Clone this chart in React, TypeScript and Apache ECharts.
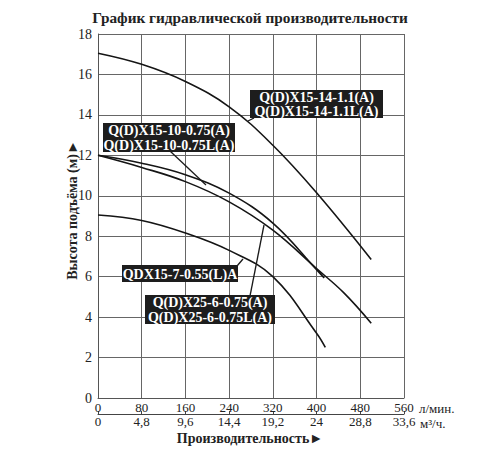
import React, { useEffect, useRef } from "react";
import * as echarts from "echarts";

// Flow (l/min) and head (m) readings for each pump curve
const flow1 = [0, 80, 160, 240, 320, 400, 500];
const head1 = [17.05, 16.5, 15.65, 14.4, 12.5, 10.15, 6.85];

const flow2 = [0, 80, 160, 240, 320, 400, 414];
const head2 = [12, 11.61, 11.04, 10.13, 8.65, 6.35, 5.93];

const flow3 = [0, 80, 160, 240, 320, 400, 450, 500];
const head3 = [12, 11.4, 10.7, 9.7, 8.3, 6.4, 5.2, 3.7];

const flow4 = [0, 80, 160, 240, 320, 400, 416];
const head4 = [9.05, 8.78, 8.16, 7.3, 6.0, 3.2, 2.5];

const title = "График гидравлической производительности";
const yTitle = "Высота подъёма (м)►";
const xTitle = "Производительность►";
const unit1 = "л/мин.";
const unit2 = "м³/ч.";
const label1 = ["Q(D)X15-14-1.1(A)", "Q(D)X15-14-1.1L(A)"];
const label2 = ["Q(D)X15-10-0.75(A)", "Q(D)X15-10-0.75L(A)"];
const label3 = ["QDX15-7-0.55(L)A"];
const label4 = ["Q(D)X25-6-0.75(A)", "Q(D)X25-6-0.75L(A)"];

const SERIF = '"Liberation Serif", "Times New Roman", serif';

const zip = (xs: number[], ys: number[]) => xs.map((x, i) => [x, ys[i]]);

function labelBox(lines: string[], x: number, y: number, w: number, h: number) {
  const els: any[] = [
    { type: "rect", z: 100, shape: { x, y, width: w, height: h }, style: { fill: "#1d1d1d" } },
  ];
  const lh = h / lines.length;
  lines.forEach((t, i) => {
    els.push({
      type: "text",
      z: 101,
      x: x + w / 2,
      y: y + lh * i + lh / 2 + 0.5,
      style: {
        text: t,
        fill: "#ffffff",
        font: `bold 14px ${SERIF}`,
        textAlign: "center",
        textVerticalAlign: "middle",
      },
    });
  });
  return els;
}

function leader(x1: number, y1: number, x2: number, y2: number) {
  return { type: "line", z: 99, shape: { x1, y1, x2, y2 }, style: { stroke: "#1a1a1a", lineWidth: 1.3 } };
}

export default function App() {
  const ref = useRef<HTMLDivElement>(null);
  useEffect(() => {
    if (!ref.current) return;
    document.body.style.margin = "0";
    const chart = echarts.init(ref.current, null, { renderer: "svg" });
    const lineStyle = { color: "#151515", width: 1.6 };
    const mk = (xs: number[], ys: number[]) => ({
      type: "line",
      data: zip(xs, ys),
      smooth: 0.4,
      showSymbol: false,
      lineStyle,
      xAxisIndex: 0,
    });
    const fmt2 = (v: number) => String(Math.round(v * 0.06 * 10) / 10).replace(".", ",");
    chart.setOption({
      animation: false,
      backgroundColor: "#ffffff",
      grid: { left: 98, right: 96, top: 34, bottom: 52, containLabel: false, outerBoundsMode: "none" },
      xAxis: [
        {
          type: "value",
          min: 0,
          max: 560,
          interval: 80,
          position: "bottom",
          axisLine: { show: true, lineStyle: { color: "#555", width: 1 } },
          axisTick: { show: false },
          axisLabel: { margin: 3, fontSize: 13, fontFamily: SERIF, color: "#222" },
          splitLine: { show: true, lineStyle: { color: "#666", width: 1 } },
        },
        {
          type: "value",
          min: 0,
          max: 560,
          interval: 80,
          position: "bottom",
          offset: 16,
          axisLine: { show: true, onZero: false, lineStyle: { color: "#444", width: 1 } },
          axisTick: { show: true, inside: true, length: 3, lineStyle: { color: "#444" } },
          axisLabel: { margin: 1, fontSize: 13, fontFamily: SERIF, color: "#222", formatter: fmt2 },
          splitLine: { show: false },
        },
      ],
      yAxis: {
        type: "value",
        min: 0,
        max: 18,
        interval: 2,
        axisLine: { show: true, lineStyle: { color: "#555", width: 1 } },
        axisTick: { show: false },
        axisLabel: { margin: 6, fontSize: 14, fontFamily: SERIF, color: "#222" },
        splitLine: { show: true, lineStyle: { color: "#666", width: 1 } },
      },
      series: [mk(flow1, head1), mk(flow2, head2), mk(flow3, head3), mk(flow4, head4)],
      graphic: [
        {
          type: "text",
          x: 250,
          y: 17,
          style: {
            text: title,
            font: `bold 15.3px ${SERIF}`,
            fill: "#222",
            textAlign: "center",
            textVerticalAlign: "middle",
          },
        },
        {
          type: "text",
          x: 72,
          y: 210,
          rotation: Math.PI / 2,
          style: {
            text: yTitle,
            font: `bold 14px ${SERIF}`,
            fill: "#222",
            textAlign: "center",
            textVerticalAlign: "middle",
          },
        },
        {
          type: "text",
          x: 250,
          y: 438,
          style: {
            text: xTitle,
            font: `bold 14px ${SERIF}`,
            fill: "#222",
            textAlign: "center",
            textVerticalAlign: "middle",
          },
        },
        {
          type: "text",
          x: 419,
          y: 408,
          style: { text: unit1, font: `13px ${SERIF}`, fill: "#222", textAlign: "left", textVerticalAlign: "middle" },
        },
        {
          type: "text",
          x: 420,
          y: 423,
          style: { text: unit2, font: `13px ${SERIF}`, fill: "#222", textAlign: "left", textVerticalAlign: "middle" },
        },
        leader(254, 118, 248, 121),
        leader(170, 151, 206, 185),
        leader(237, 266, 243, 259),
        leader(250, 296, 264, 225),
        ...labelBox(label1, 250, 90, 133, 28),
        ...labelBox(label2, 103, 123, 132, 29),
        ...labelBox(label3, 122, 265, 116, 17),
        ...labelBox(label4, 145, 295, 130, 29),
      ],
    });
    return () => chart.dispose();
  }, []);
  return <div ref={ref} style={{ width: 500, height: 450 }} />;
}
